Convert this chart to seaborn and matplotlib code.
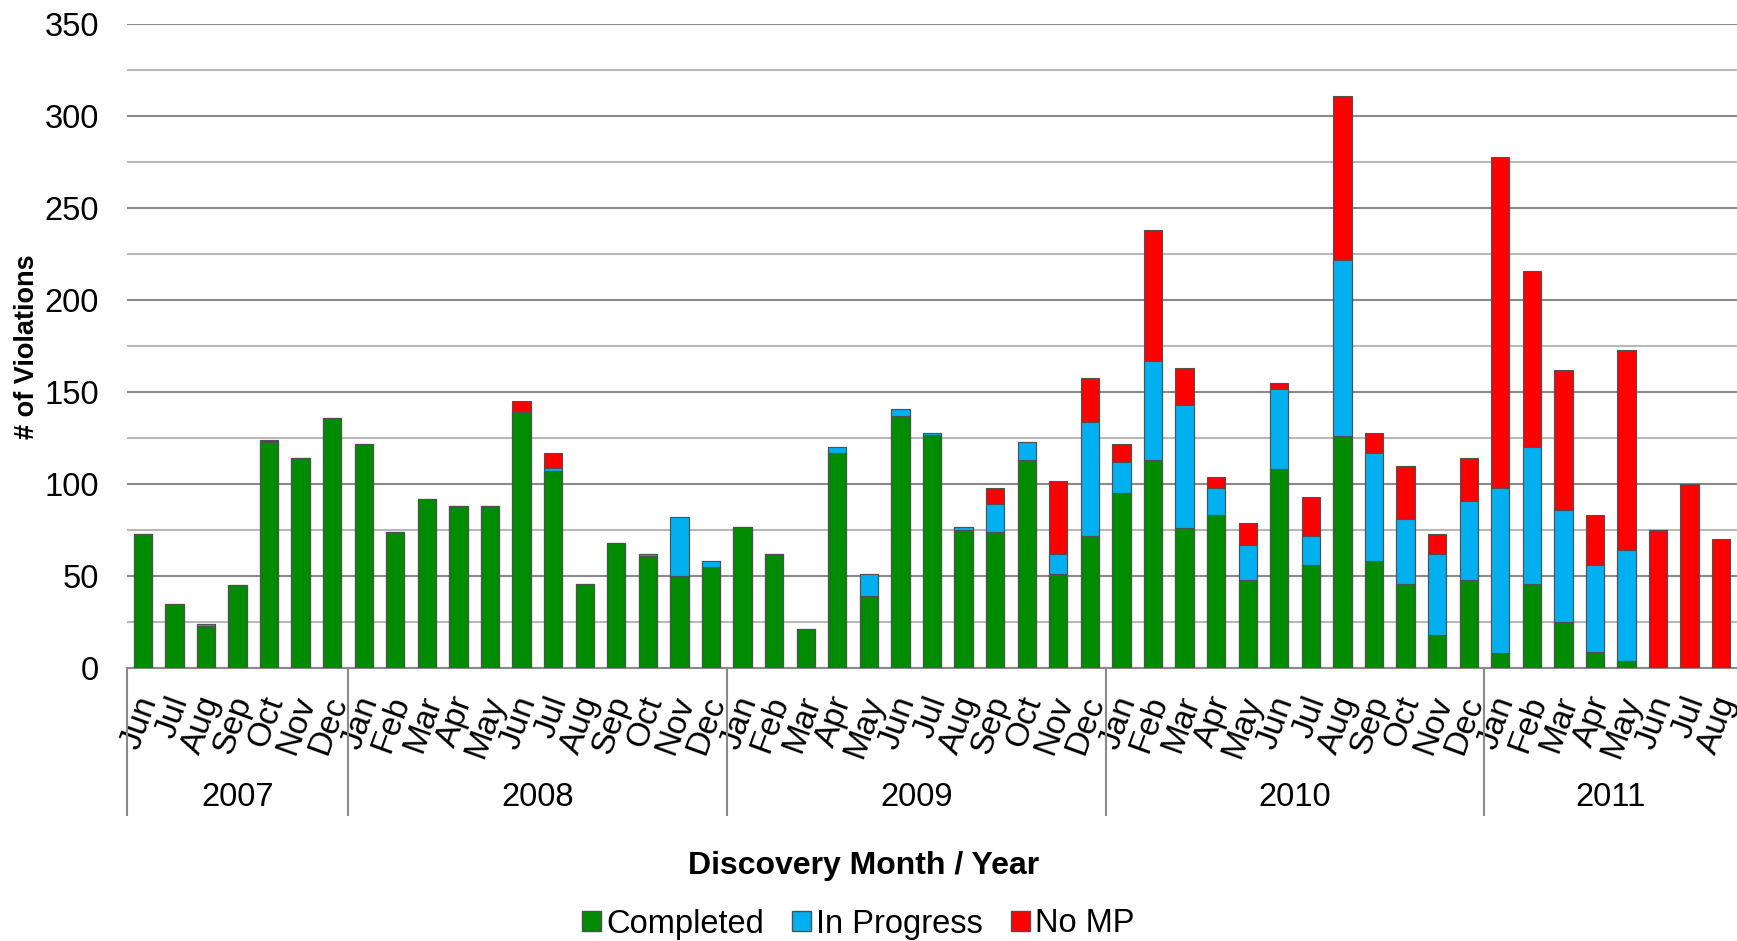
import numpy as np
import pandas as pd
import matplotlib
matplotlib.use("Agg")
import matplotlib.pyplot as plt
import matplotlib.transforms as mtransforms
import seaborn as sns
from matplotlib.patches import Patch

# datos (Jun 2007 - Aug 2011)
years = ["2007", "2008", "2009", "2010", "2011"]
months_per_year = [7, 12, 12, 12, 8]
month_names = ["Jun", "Jul", "Aug", "Sep", "Oct", "Nov", "Dec",
               "Jan", "Feb", "Mar", "Apr", "May", "Jun", "Jul", "Aug", "Sep", "Oct", "Nov", "Dec",
               "Jan", "Feb", "Mar", "Apr", "May", "Jun", "Jul", "Aug", "Sep", "Oct", "Nov", "Dec",
               "Jan", "Feb", "Mar", "Apr", "May", "Jun", "Jul", "Aug", "Sep", "Oct", "Nov", "Dec",
               "Jan", "Feb", "Mar", "Apr", "May", "Jun", "Jul", "Aug"]

completed = [73, 35, 23, 45, 123, 114, 136,
             122, 74, 92, 88, 88, 139, 107, 46, 68, 61, 50, 55,
             77, 62, 21, 117, 39, 137, 127, 75, 74, 113, 51, 72,
             95, 113, 76, 83, 48, 108, 56, 126, 58, 46, 18, 48,
             8, 46, 25, 9, 4, 0, 0, 0]
in_progress = [0, 0, 1, 0, 0, 0, 0,
               0, 0, 0, 0, 0, 1, 2, 0, 0, 1, 32, 3,
               0, 0, 0, 3, 12, 4, 1, 2, 15, 10, 11, 62,
               17, 54, 67, 15, 19, 44, 16, 96, 59, 35, 44, 43,
               90, 74, 61, 47, 60, 0, 0, 0]
no_mp = [0, 0, 0, 0, 1, 0, 0,
         0, 0, 0, 0, 0, 5, 8, 0, 0, 0, 0, 0,
         0, 0, 0, 0, 0, 0, 0, 0, 9, 0, 40, 24,
         10, 71, 20, 6, 12, 3, 21, 89, 11, 29, 11, 23,
         180, 96, 76, 27, 109, 75, 100, 70]

df = pd.DataFrame({"pos": np.arange(len(month_names)),
                   "Completed": completed,
                   "In Progress": in_progress,
                   "No MP": no_mp})
df["c1"] = df["Completed"]
df["c2"] = df["c1"] + df["In Progress"]
df["c3"] = df["c2"] + df["No MP"]

colores = {"Completed": "#008c00", "In Progress": "#00b0f0", "No MP": "#ff0000"}

plt.rcParams["font.family"] = ["Liberation Sans", "DejaVu Sans"]

fig = plt.figure(figsize=(17.37, 9.41), dpi=100)
ax = fig.add_axes([127 / 1737, 0.290, 1 - 127 / 1737, 0.684])

# barras apiladas: se dibuja el total primero y encima los acumulados menores
for col, serie in [("c3", "No MP"), ("c2", "In Progress"), ("c1", "Completed")]:
    sns.barplot(data=df, x="pos", y=col, color=colores[serie], saturation=1,
                width=0.58, edgecolor="#505050", linewidth=0.8, ax=ax, zorder=3)

ax.set_ylim(0, 350)
ax.set_xlim(-0.5, len(month_names) - 0.5)
ax.set_yticks(np.arange(0, 351, 50))
ax.set_yticks(np.arange(25, 351, 50), minor=True)
ax.grid(axis="y", which="major", color="#8a8a8a", linewidth=1.5, zorder=0)
ax.grid(axis="y", which="minor", color="#b8b8b8", linewidth=1.5, zorder=0)
ax.grid(axis="x", visible=False)
ax.set_axisbelow(True)
for s in ["top", "right", "left"]:
    ax.spines[s].set_visible(False)
ax.spines["bottom"].set_color("#8a8a8a")
ax.spines["bottom"].set_linewidth(1.5)
ax.tick_params(axis="y", which="both", length=0, pad=20, labelsize=23.5)
ax.tick_params(axis="x", length=0, pad=21, labelsize=24)

ax.set_xticks(df["pos"])
ax.set_xticklabels(month_names, rotation=70, ha="right", va="center",
                   rotation_mode="anchor")
# mover un poco las etiquetas de mes a la derecha
desplaza = mtransforms.ScaledTranslation(6 / 100, 0, fig.dpi_scale_trans)
for lab in ax.get_xticklabels():
    lab.set_transform(lab.get_transform() + desplaza)
ax.set_xlabel("")
ax.set_ylabel("")

# etiquetas de año y separadores
trans = mtransforms.blended_transform_factory(ax.transData, ax.transAxes)
inicio = -0.5
for year, n in zip(years, months_per_year):
    ax.plot([inicio, inicio], [0, -0.2284], transform=trans, color="#8a8a8a",
            linewidth=1.5, clip_on=False)
    ax.text(inicio + n / 2, -0.2004, year, transform=trans, ha="center",
            va="center", fontsize=23.5)
    inicio += n

fig.text(27 / 1737, 1 - 347 / 941, "# of Violations", rotation=90, ha="center",
         va="center", fontsize=19.5, fontweight="bold")
fig.text(0.497, 1 - 866 / 941, "Discovery Month / Year", ha="center", va="center",
         fontsize=23, fontweight="bold")

handles = [Patch(facecolor=colores[k], edgecolor="#505050", label=k)
           for k in ["Completed", "In Progress", "No MP"]]
fig.legend(handles=handles, loc="center", bbox_to_anchor=(0.494, 1 - 924 / 941),
           ncol=3, frameon=False, fontsize=23.5, handlelength=0.6, handleheight=0.6,
           handletextpad=0.15, columnspacing=0.85)

fig.savefig("out.png", dpi=100)
